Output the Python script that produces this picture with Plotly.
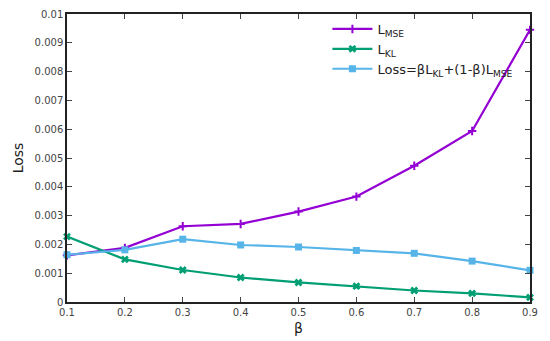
import plotly.graph_objects as go

beta = [0.1, 0.2, 0.3, 0.4, 0.5, 0.6, 0.7, 0.8, 0.9]
l_mse = [0.00162, 0.00188, 0.00263, 0.00271, 0.00314, 0.00366, 0.00473, 0.00594, 0.00945]
l_kl = [0.00227, 0.00148, 0.00111, 0.00085, 0.00068, 0.00055, 0.00040, 0.00030, 0.00016]
loss = [0.00164, 0.00181, 0.00218, 0.00198, 0.00191, 0.00179, 0.00169, 0.00142, 0.00110]

x_ticks = [0.1, 0.2, 0.3, 0.4, 0.5, 0.6, 0.7, 0.8, 0.9]
x_labels = ["0.1", "0.2", "0.3", "0.4", "0.5", "0.6", "0.7", "0.8", "0.9"]
y_ticks = [0, 0.001, 0.002, 0.003, 0.004, 0.005, 0.006, 0.007, 0.008, 0.009, 0.01]
y_labels = ["0", "0.001", "0.002", "0.003", "0.004", "0.005", "0.006", "0.007", "0.008", "0.009", "0.01"]

FONT = "DejaVu Sans"

fig = go.Figure()
fig.add_trace(go.Scatter(
    x=beta, y=l_mse, mode="lines+markers", name="L<sub>MSE</sub>",
    line=dict(color="#9400D3", width=2.2),
    marker=dict(symbol="cross-thin", size=6, line=dict(color="#9400D3", width=2)),
    cliponaxis=False,
))
fig.add_trace(go.Scatter(
    x=beta, y=l_kl, mode="lines+markers", name="L<sub>KL</sub>",
    line=dict(color="#009E73", width=2.2),
    marker=dict(symbol="x", size=7, color="#009E73"),
    cliponaxis=False,
))
fig.add_trace(go.Scatter(
    x=beta, y=loss, mode="lines+markers", name="Loss=βL<sub>KL</sub>+(1-β)L<sub>MSE</sub>",
    line=dict(color="#56B4E9", width=2.2),
    marker=dict(symbol="square", size=7, color="#56B4E9"),
    cliponaxis=False,
))

axis_common = dict(
    showline=True, linecolor="#222", linewidth=1.5, mirror="ticks",
    ticks="inside", ticklen=5, tickcolor="#444", tickwidth=1,
    showgrid=False, zeroline=False, automargin=False,
    ticklabeloverflow="allow",
    tickfont=dict(family=FONT, size=10, color="#444"),
)

# page body has an 8px default margin, so the figure is offset by (8, 8)
fig.update_layout(
    width=542, height=333,
    margin=dict(l=59, r=20, t=6, b=39),
    paper_bgcolor="white", plot_bgcolor="white",
    font=dict(family=FONT, color="#222"),
    showlegend=True,
    legend=dict(
        x=0.975, y=1.0, xanchor="right", yanchor="top",
        bgcolor="rgba(0,0,0,0)", font=dict(family=FONT, size=13, color="#222"),
        tracegroupgap=0, itemwidth=40,
    ),
    xaxis=dict(
        range=[0.1, 0.9], tickmode="array", tickvals=x_ticks, ticktext=x_labels,
        title=dict(text="β", font=dict(family=FONT, size=14, color="#222"), standoff=6),
        **axis_common,
    ),
    yaxis=dict(
        range=[0, 0.01], tickmode="array", tickvals=y_ticks, ticktext=y_labels,
        title=dict(text="Loss", font=dict(family=FONT, size=14, color="#222"), standoff=8),
        **axis_common,
    ),
)

fig.write_html("out.html")
